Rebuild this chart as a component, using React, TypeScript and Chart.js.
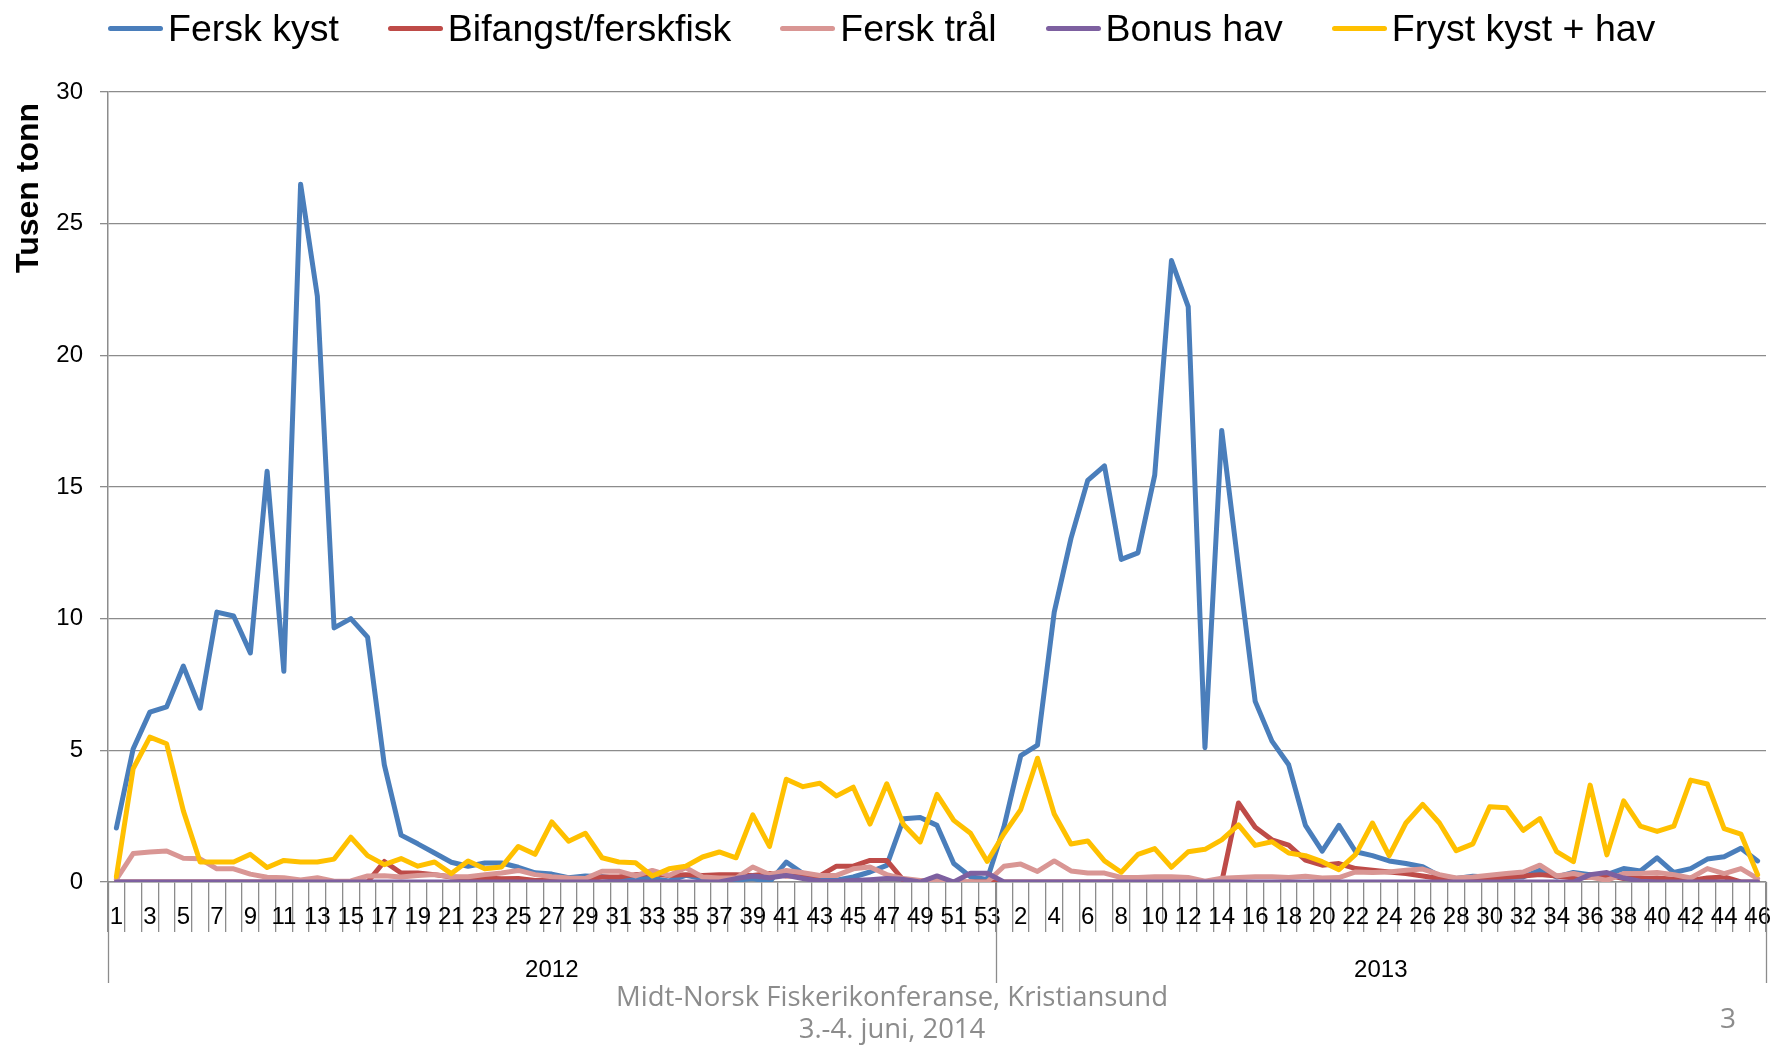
import React, { useEffect, useRef } from 'react';
import { Chart, registerables } from 'chart.js';

Chart.register(...registerables);

// ---- Data ----
const weeks2012 = ['1','2','3','4','5','6','7','8','9','10','11','12','13','14','15','16','17','18','19','20','21','22','23','24','25','26','27','28','29','30','31','32','33','34','35','36','37','38','39','40','41','42','43','44','45','46','47','48','49','50','51','52','53'];
const weeks2013 = ['1','2','3','4','5','6','7','8','9','10','11','12','13','14','15','16','17','18','19','20','21','22','23','24','25','26','27','28','29','30','31','32','33','34','35','36','37','38','39','40','41','42','43','44','45','46'];
const years = ['2012', '2013'];
const yTicks = [0, 5, 10, 15, 20, 25, 30];

const ferskKyst = [
  2.05, 5.05, 6.45, 6.65, 8.2, 6.6, 10.25, 10.1, 8.7, 15.6, 8.0, 26.5, 22.25, 9.65, 10.0, 9.3, 4.45, 1.78, 1.45, 1.1,
  0.75, 0.6, 0.72, 0.72, 0.56, 0.35, 0.3, 0.16, 0.23, 0.2, 0.13, 0.15, 0.13, 0.04, 0.25, 0.13, 0.04, 0.07, 0.13, 0.0,
  0.76, 0.32, 0.13, 0.07, 0.19, 0.38, 0.63, 2.4, 2.45, 2.15, 0.7, 0.2, 0.1,
  2.1, 4.8, 5.2, 10.25, 13.05, 15.25, 15.8, 12.25, 12.5, 15.45, 23.6, 21.85, 5.1, 17.15, 11.95, 6.86, 5.35, 4.45, 2.15, 1.17,
  2.15, 1.15, 1.0, 0.8, 0.7, 0.58, 0.23, 0.13, 0.22, 0.19, 0.17, 0.19, 0.45, 0.19, 0.36, 0.28, 0.28, 0.51, 0.42, 0.92,
  0.36, 0.51, 0.87, 0.96, 1.28, 0.8,
];

const bifangst = [
  0, 0, 0, 0, 0, 0, 0, 0, 0, 0, 0, 0, 0, 0, 0, 0, 0.78, 0.34, 0.34, 0.28,
  0.19, 0.15, 0.15, 0.12, 0.13, 0.06, 0.06, 0.06, 0.1, 0.19, 0.19, 0.28, 0.32, 0.25, 0.28, 0.25, 0.28, 0.28, 0.25, 0.32,
  0.23, 0.25, 0.23, 0.6, 0.6, 0.82, 0.82, 0.06, 0, 0, 0, 0, 0,
  0, 0, 0, 0, 0, 0, 0, 0, 0, 0, 0, 0, 0, 0, 3.0, 2.08, 1.6, 1.4, 0.83, 0.64,
  0.7, 0.51, 0.45, 0.38, 0.32, 0.23, 0.13, 0.1, 0.13, 0.15, 0.19, 0.23, 0.28, 0.23, 0.15, 0.19, 0.26, 0.13, 0.13, 0.15,
  0.1, 0.06, 0.15, 0.19, 0, 0,
];

const ferskTraal = [
  0.1, 1.08, 1.14, 1.18, 0.9, 0.88, 0.5, 0.5, 0.3, 0.18, 0.16, 0.08, 0.16, 0.03, 0.04, 0.23, 0.24, 0.19, 0.25, 0.28,
  0.2, 0.2, 0.28, 0.34, 0.44, 0.28, 0.2, 0.15, 0.13, 0.41, 0.41, 0.23, 0.44, 0.25, 0.54, 0.19, 0.15, 0.15, 0.57, 0.28,
  0.44, 0.35, 0.25, 0.25, 0.5, 0.57, 0.28, 0.13, 0.06, 0.06, 0, 0, 0,
  0.6, 0.68, 0.4, 0.8, 0.42, 0.34, 0.34, 0.17, 0.17, 0.2, 0.2, 0.17, 0.03, 0.14, 0.17, 0.2, 0.2, 0.17, 0.22, 0.15,
  0.17, 0.38, 0.36, 0.38, 0.45, 0.49, 0.28, 0.15, 0.19, 0.26, 0.32, 0.38, 0.64, 0.23, 0.32, 0.19, 0.06, 0.32, 0.32, 0.36,
  0.28, 0.15, 0.51, 0.32, 0.51, 0.13,
];

const bonusHav = [
  0, 0, 0, 0, 0, 0, 0, 0, 0, 0, 0, 0, 0, 0, 0, 0, 0, 0, 0, 0,
  0, 0, 0, 0, 0, 0, 0, 0, 0, 0, 0, 0, 0, 0, 0, 0, 0, 0.13, 0.23, 0.16,
  0.25, 0.13, 0.03, 0.03, 0.06, 0.09, 0.13, 0.1, 0, 0.23, 0, 0.33, 0.33,
  0, 0, 0, 0, 0, 0, 0, 0, 0, 0, 0, 0, 0, 0, 0, 0, 0, 0, 0, 0,
  0, 0, 0, 0, 0, 0, 0, 0, 0, 0, 0, 0, 0, 0, 0, 0.28, 0.36, 0.15, 0.03, 0,
  0, 0, 0, 0, 0, 0,
];

const frystKystHav = [
  0.2, 4.3, 5.5, 5.25, 2.7, 0.76, 0.76, 0.76, 1.05, 0.55, 0.82, 0.76, 0.76, 0.87, 1.7, 1.0, 0.66, 0.89, 0.6, 0.76,
  0.32, 0.8, 0.5, 0.57, 1.35, 1.05, 2.28, 1.55, 1.85, 0.92, 0.76, 0.73, 0.23, 0.5, 0.6, 0.95, 1.14, 0.92, 2.55, 1.35,
  3.9, 3.62, 3.75, 3.27, 3.6, 2.2, 3.73, 2.18, 1.52, 3.33, 2.34, 1.85, 0.78,
  1.83, 2.75, 4.7, 2.58, 1.44, 1.56, 0.8, 0.37, 1.05, 1.27, 0.56, 1.15, 1.24, 1.6, 2.17, 1.39, 1.53, 1.1, 1.0, 0.77,
  0.47, 1.05, 2.24, 1.0, 2.24, 2.95, 2.24, 1.19, 1.45, 2.86, 2.82, 1.96, 2.41, 1.15, 0.77, 3.68, 1.03, 3.08, 2.12, 1.92,
  2.12, 3.87, 3.72, 2.03, 1.82, 0.28,
];

const seriesNames = ['Fersk kyst', 'Bifangst/ferskfisk', 'Fersk trål', 'Bonus hav', 'Fryst kyst + hav'];
const seriesColors = ['#4A7EBB', '#BE4B48', '#D99694', '#7D60A0', '#FFC000'];
const seriesData = [ferskKyst, bifangst, ferskTraal, bonusHav, frystKystHav];

const yTitle = 'Tusen tonn';
const footerLines = ['Midt-Norsk Fiskerikonferanse, Kristiansund', '3.-4. juni, 2014'];
const pageNumber = '3';

const weekLabels = [...weeks2012, ...weeks2013];
const FONT = "'Liberation Sans', Arial, sans-serif";
const GRID = '#8c8c8c';
const TICK_SIZE = 24;

const decorPlugin = {
  id: 'decor',
  afterDraw(chart: any) {
    const ctx = chart.ctx;
    const xs = chart.scales.x;
    const area = chart.chartArea;
    ctx.save();
    // Year group separators
    const mid = (xs.getPixelForValue(weeks2012.length - 1) + xs.getPixelForValue(weeks2012.length)) / 2;
    const bounds = [xs.left, mid, xs.right];
    ctx.strokeStyle = GRID;
    ctx.lineWidth = 1.3;
    bounds.forEach((bx) => {
      ctx.beginPath();
      ctx.moveTo(Math.round(bx) + 0.5, area.bottom);
      ctx.lineTo(Math.round(bx) + 0.5, area.bottom + 101);
      ctx.stroke();
    });
    ctx.fillStyle = '#000';
    ctx.font = `${TICK_SIZE}px ${FONT}`;
    ctx.textAlign = 'center';
    ctx.textBaseline = 'alphabetic';
    years.forEach((yr, i) => {
      const cx = (bounds[i] + bounds[i + 1]) / 2;
      ctx.fillText(yr, cx, area.bottom + 95);
    });
    // Y axis title
    ctx.translate(38, area.top + 96);
    ctx.rotate(-Math.PI / 2);
    ctx.font = `bold 32px ${FONT}`;
    ctx.textAlign = 'center';
    ctx.fillText(yTitle, 0, 0);
    ctx.restore();
  },
};

export default function App() {
  const ref = useRef<HTMLCanvasElement>(null);

  useEffect(() => {
    if (!ref.current) return;
    const datasets = seriesNames.map((name, i) => ({
      label: name,
      data: seriesData[i],
      borderColor: seriesColors[i],
      backgroundColor: seriesColors[i],
      borderWidth: 5,
      pointRadius: 0,
      tension: 0,
      borderJoinStyle: 'round' as const,
      borderCapStyle: 'round' as const,
      order: seriesNames.length - 1 - i,
    }));
    const chart = new Chart(ref.current, {
      type: 'line',
      data: { labels: weekLabels, datasets },
      options: {
        responsive: false,
        animation: false,
        layout: { padding: { top: 92, right: 7, left: 0, bottom: 0 } },
        plugins: {
          legend: { display: false },
          tooltip: { enabled: false },
        },
        scales: {
          x: {
            type: 'category',
            offset: true,
            grid: {
              display: true,
              drawOnChartArea: false,
              drawTicks: true,
              tickLength: 50,
              color: GRID,
              lineWidth: 1.3,
              offset: true,
            },
            border: { display: true, color: GRID, width: 1.5 },
            ticks: {
              autoSkip: false,
              maxRotation: 0,
              minRotation: 0,
              padding: -29.5,
              color: '#000',
              font: { family: FONT, size: TICK_SIZE },
              callback: (_v: any, i: number) => (i % 2 === 0 ? weekLabels[i] : ''),
            },
            afterFit: (s: any) => {
              s.height = 169;
            },
          },
          y: {
            min: yTicks[0],
            max: yTicks[yTicks.length - 1],
            ticks: {
              stepSize: 5,
              padding: 17,
              color: '#000',
              font: { family: FONT, size: TICK_SIZE },
            },
            grid: { color: GRID, lineWidth: 1.3, tickLength: 8, drawTicks: true },
            border: { display: true, color: GRID, width: 1.5 },
            afterFit: (s: any) => {
              s.width = 108;
            },
          },
        },
      },
      plugins: [decorPlugin],
    });
    return () => chart.destroy();
  }, []);

  return (
    <div style={{ position: 'fixed', left: 0, top: 0, width: 1773, height: 1051, background: '#fff', overflow: 'hidden' }}>
      <canvas ref={ref} width={1773} height={1051} style={{ position: 'absolute', left: 0, top: 0, display: 'block' }} />
      <div
        style={{
          position: 'absolute',
          left: 108,
          top: 10,
          display: 'flex',
          alignItems: 'center',
          gap: 49,
          fontFamily: FONT,
          fontSize: 37.5,
          lineHeight: 1,
          color: '#000',
          whiteSpace: 'nowrap',
        }}
      >
        {seriesNames.map((name, i) => (
          <div key={name} style={{ display: 'flex', alignItems: 'center' }}>
            <span style={{ display: 'inline-block', width: 55, height: 5, borderRadius: 3, background: seriesColors[i], marginRight: 5 }} />
            <span>{name}</span>
          </div>
        ))}
      </div>
      <div
        style={{
          position: 'absolute',
          left: 492,
          top: 980,
          width: 800,
          textAlign: 'center',
          fontFamily: "'Open Sans', sans-serif",
          fontSize: 27.5,
          lineHeight: '32px',
          color: '#8c8c8c',
        }}
      >
        {footerLines.map((l) => (
          <div key={l}>{l}</div>
        ))}
      </div>
      <div
        style={{
          position: 'absolute',
          left: 1700,
          top: 997,
          width: 56,
          textAlign: 'center',
          fontFamily: "'Open Sans', sans-serif",
          fontSize: 28,
          lineHeight: '40px',
          color: '#8c8c8c',
        }}
      >
        {pageNumber}
      </div>
    </div>
  );
}
